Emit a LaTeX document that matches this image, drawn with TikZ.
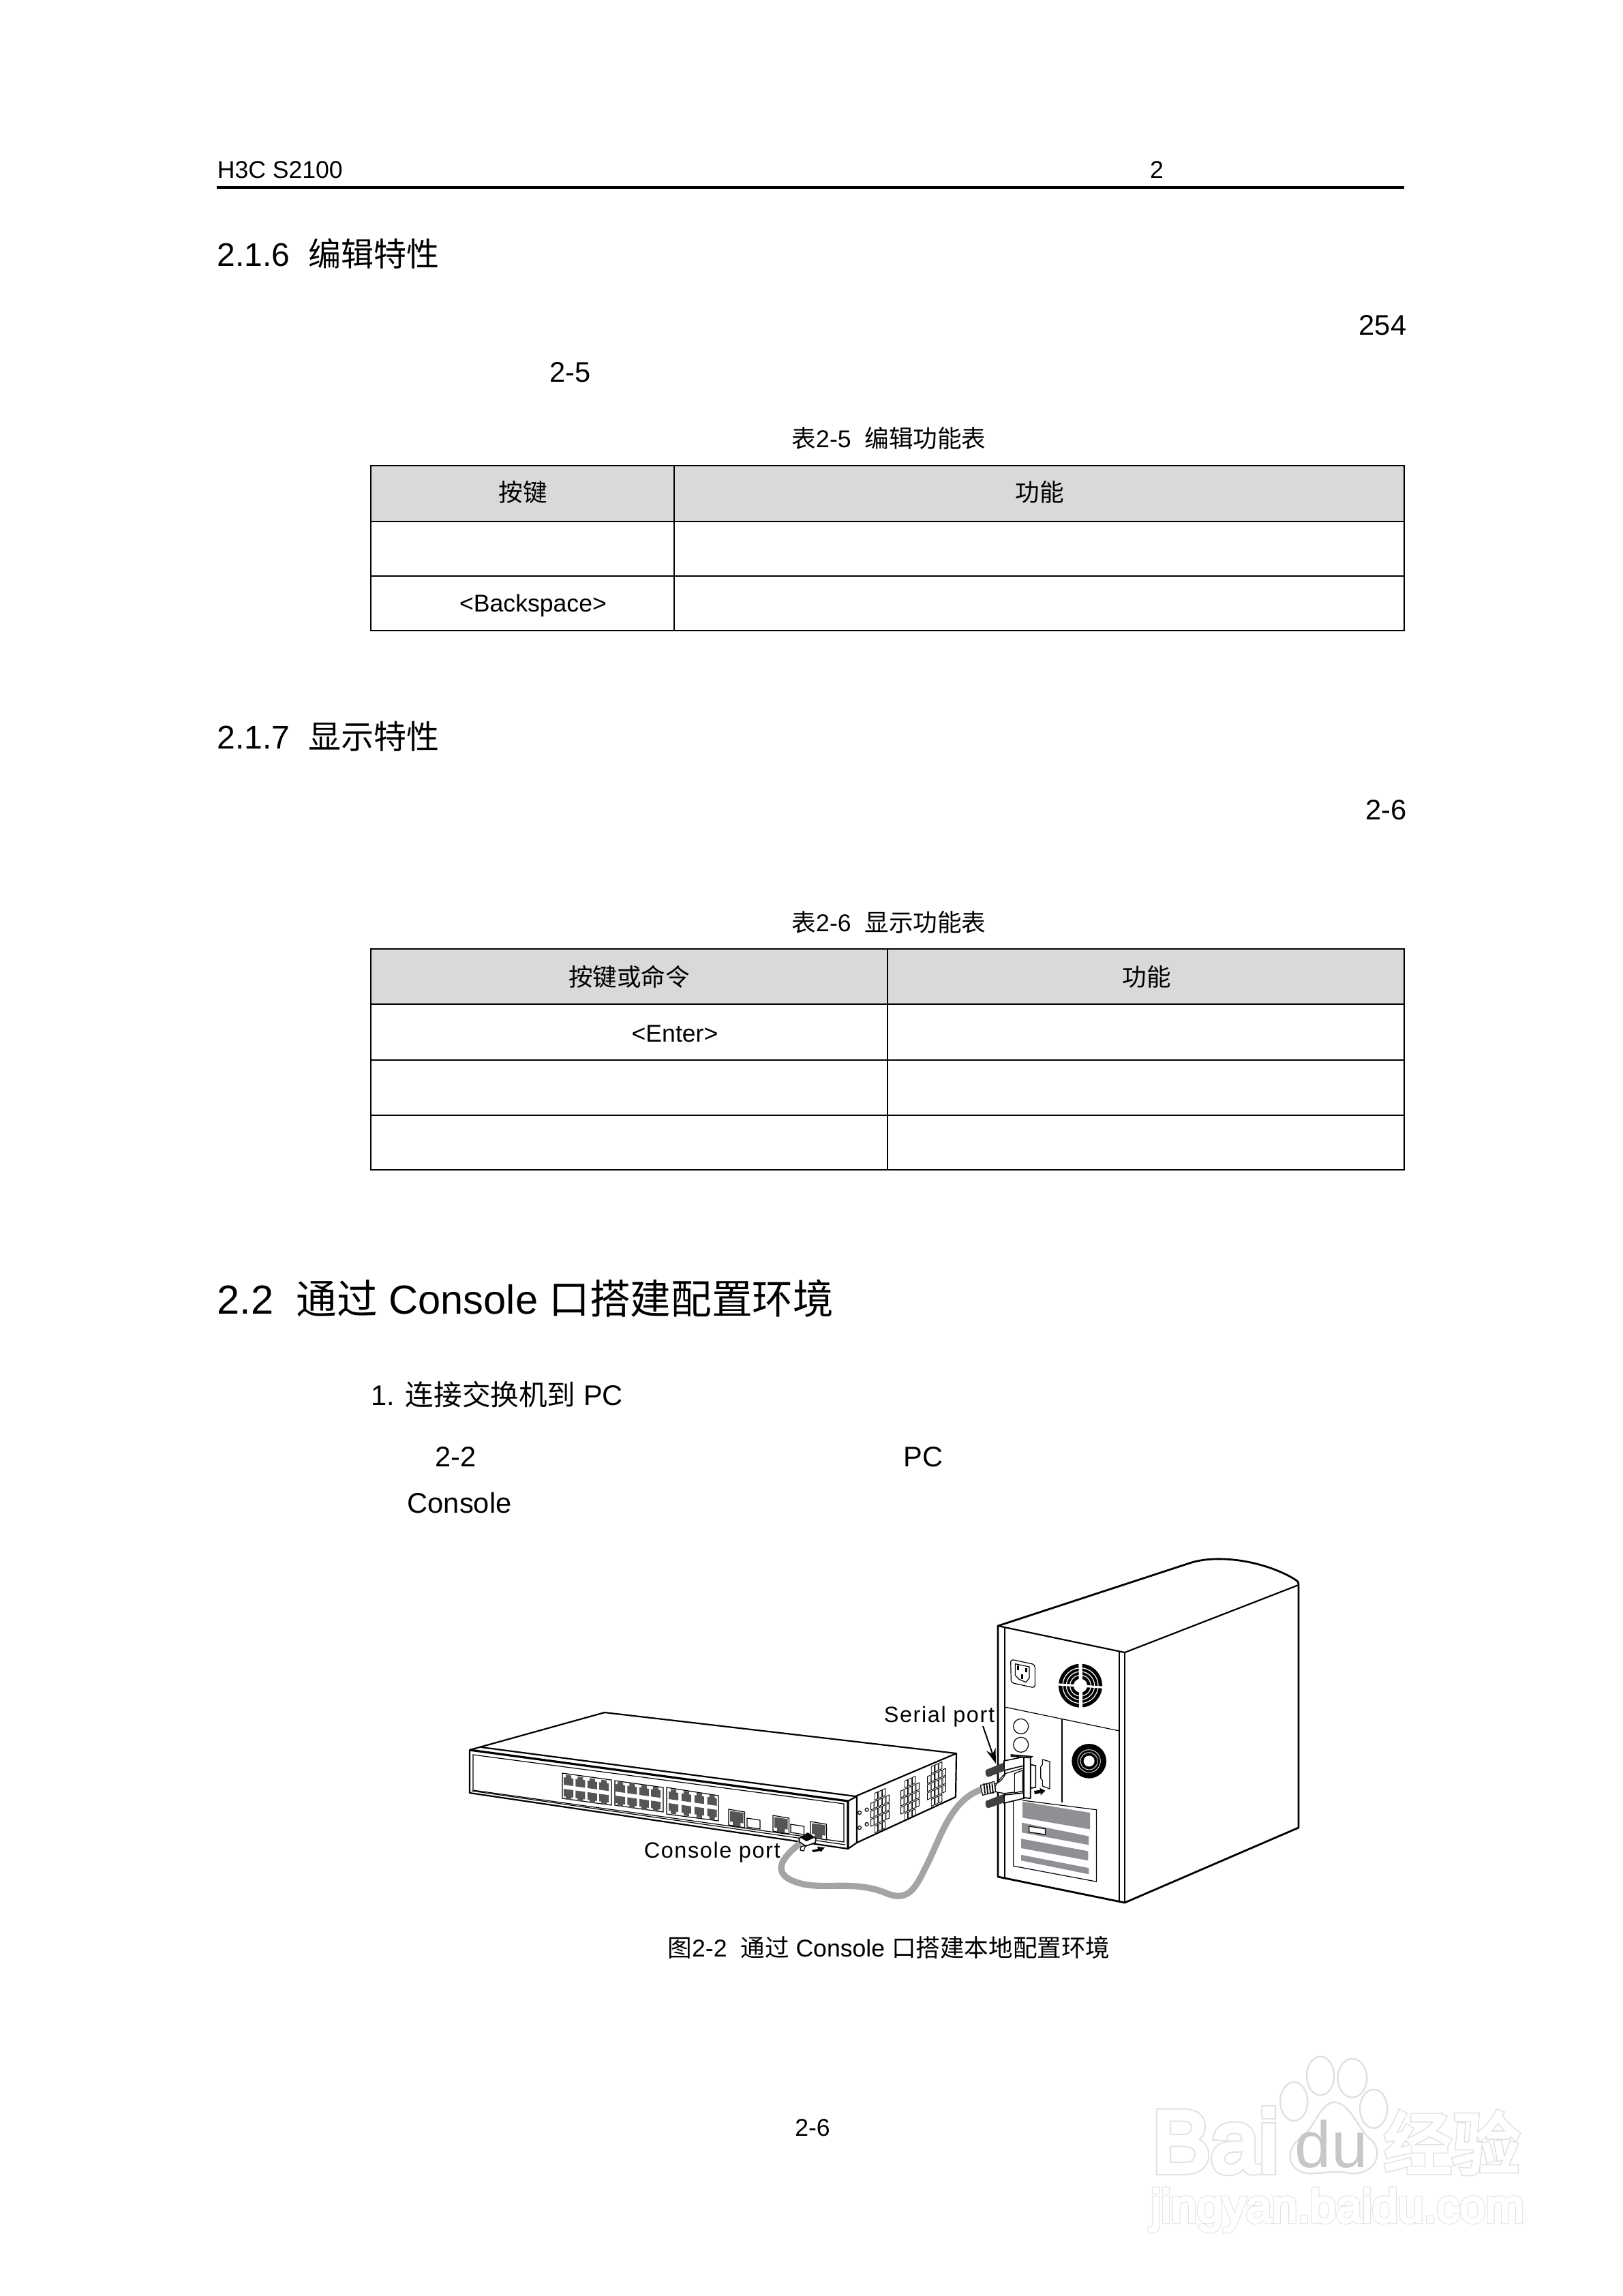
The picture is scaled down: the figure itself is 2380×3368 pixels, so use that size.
\documentclass[tikz,border=0pt]{standalone}
\usepackage{fontspec}
\setmainfont{Liberation Sans}
\newfontfamily\cjk{Noto Sans CJK SC}
\newfontfamily\portfont[LetterSpace=5]{Liberation Sans}
\newfontfamily\wmfat[FakeBold=8]{Liberation Sans}
\newfontfamily\wmthin[FakeBold=5]{Liberation Sans}
\newfontfamily\wmcjkfat[FakeBold=7]{Noto Sans CJK SC}
\newfontfamily\wmcjkthin[FakeBold=4]{Noto Sans CJK SC}
\usetikzlibrary{arrows.meta}
\definecolor{headgray}{HTML}{D9D9D9}
\definecolor{cardgray}{HTML}{8E9096}
\definecolor{portgray}{HTML}{555555}
\definecolor{cablegray}{HTML}{A4A4A4}
\definecolor{wmgray}{HTML}{E0E0E0}
\newcommand{\fsmall}{\fontsize{8.9}{11}\selectfont}
\newcommand{\fbody}{\fontsize{10.4}{12}\selectfont}
\newcommand{\fsec}{\fontsize{12}{14}\selectfont}
\newcommand{\fchap}{\fontsize{14.9}{18}\selectfont}
\newcommand{\fport}{\fontsize{8.1}{10}\selectfont\portfont}
\newcommand{\wmtext}[7]{%
\node[anchor=center,text=wmgray,font=\fontsize{#4}{#4}\selectfont#5] (#1) at (#2,#3) {#7};
\node[anchor=center,text=white,font=\fontsize{#4}{#4}\selectfont#6] (#1t) at (#2,#3) {#7};}
\tikzset{
cellline/.style={draw=black,line width=0.5pt},
dev/.style={draw=black,line width=0.55pt,line join=round},
devthin/.style={draw=black,line width=0.3pt},
rjtop/.pic={\fill[portgray,yslant=-.14] (0,4) -- (3,4) -- (3,0) -- (11,0) -- (11,4) -- (14,4) -- (14,15) -- (0,15) -- cycle;},
rjbot/.pic={\fill[portgray,yslant=-.14] (0,0) -- (14,0) -- (14,11) -- (11,11) -- (11,15) -- (3,15) -- (3,11) -- (0,11) -- cycle;},
}
\begin{document}
\begin{tikzpicture}[x=0.25pt,y=-0.25pt,anchor=west,inner sep=0pt]
\useasboundingbox (0,0) rectangle (2380,3368);
% page head
\node[font=\fsmall] (head) at (318,249) {H3C S2100}; \node[font=\fsmall,anchor=center] (headno) at (1697,249) {2};
\draw[line width=1pt] (318,275) -- (2060,275);
% 2.1.6
\node[font=\fsec] (sec216) at (318,372) {2.1.6\ \ {\cjk 编辑特性}};
\node[font=\fbody,anchor=east] (len254) at (2064,477) {254};
\node[font=\fbody] (ref25) at (806,546) {2-5};
\node[font=\fsmall,anchor=center] (cap25) at (1304,643) {{\cjk 表}2-5\ \ {\cjk 编辑功能表}};
\fill[headgray] (544,683) rectangle (2060,765);
\draw[cellline] (544,683) rectangle (2060,925);
\draw[cellline] (544,765) -- (2060,765); \draw[cellline] (544,845) -- (2060,845); \draw[cellline] (989,683) -- (989,925);
\node[font=\fsmall,anchor=center] (key25) at (767,722) {\cjk 按键}; \node[font=\fsmall,anchor=center] (fun25) at (1525,722) {\cjk 功能};
\node[font=\fsmall,anchor=center] (bksp) at (782,888) {<Backspace>};
% 2.1.7
\node[font=\fsec] (sec217) at (318,1080) {2.1.7\ \ {\cjk 显示特性}};
\node[font=\fbody,anchor=east] (ref26) at (2064,1188) {2-6};
\node[font=\fsmall,anchor=center] (cap26) at (1304,1353) {{\cjk 表}2-6\ \ {\cjk 显示功能表}};
\fill[headgray] (544,1392) rectangle (2060,1473);
\draw[cellline] (544,1392) rectangle (2060,1716);
\draw[cellline] (544,1473) -- (2060,1473); \draw[cellline] (544,1555) -- (2060,1555); \draw[cellline] (544,1636) -- (2060,1636); \draw[cellline] (1302,1392) -- (1302,1716);
\node[font=\fsmall,anchor=center] (key26) at (923,1433) {\cjk 按键或命令}; \node[font=\fsmall,anchor=center] (fun26) at (1682,1433) {\cjk 功能};
\node[font=\fsmall,anchor=center] (enter) at (990,1516) {<Enter>};
% 2.2
\node[font=\fchap] (sec22) at (318,1905) {2.2\ \ {\cjk 通过} Console {\cjk 口搭建配置环境}};
\node[font=\fbody] (item1) at (544,2046) {1. {\cjk 连接交换机到} PC};
\node[font=\fbody] (ref22) at (638,2137) {2-2}; \node[font=\fbody] (pc) at (1325,2137) {PC};
\node[font=\fbody] (console) at (597,2205) {Console};
% tower
\draw[dev,line width=0.7pt] (1464,2385) -- (1745,2293) .. controls (1790,2278) and (1860,2292) .. (1900,2317) .. controls (1905,2320) and (1905,2322) .. (1905,2326) -- (1905,2681) -- (1650,2791) -- (1464,2753) -- cycle;
\draw[dev] (1464,2385) -- (1650,2424) -- (1905,2325); \draw[dev,line width=0.7pt] (1650,2424) -- (1650,2791);
\draw[devthin] (1474,2388) -- (1474,2756); \draw[devthin] (1642,2422) -- (1642,2789);
\draw[devthin] (1474,2504) -- (1642,2539); \draw[devthin] (1558,2522) -- (1558,2644);
% socket and fan, in the crop's own numbers
\begin{scope}[shift={(1430,2420)},scale=1/3]
\draw[devthin,rounded corners=1pt] (158,42) -- (265,65) -- (265,168) -- (160,145) -- cycle;
\draw[devthin] (178,62) -- (240,75) -- (240,125) -- (225,143) -- (195,130) -- (178,112) -- cycle;
\fill (185,70) rectangle (195,90); \fill (222,80) rectangle (232,100); \fill (203,108) rectangle (213,128);
\fill (465,158) circle (96);
\draw[white,line width=0.3pt] (465,158) circle (78); \draw[white,line width=0.3pt] (465,158) circle (62); \draw[white,line width=0.3pt] (465,158) circle (46);
\fill[white] (465,158) circle (30);
\draw[white,line width=1.3pt] (465,50) -- (467,265); \draw[white,line width=0.8pt] (355,152) -- (575,166);
\draw[devthin] (203,337) circle (33); \draw[devthin] (203,418) circle (33);
\fill (503,490) circle (76);
\draw[white,line width=0.2pt] (503,490) circle (50); \draw[white,line width=0.2pt] (503,490) circle (38);
\fill[white] (503,490) circle (24);
\draw[devthin,fill=white] (298,483) -- (330,492) -- (330,612) -- (298,600) -- (298,575) -- (290,565) -- (290,515) -- (298,505) -- cycle;
\end{scope}
% cards
\begin{scope}[shift={(1250,2250)},xscale=0.4464,yscale=0.3636]
\draw[devthin] (530,1075) -- (530,1340) -- (803,1403) -- (803,1113) -- (560,1075);
\fill[cardgray] (560,1080) -- (782,1125) -- (782,1192) -- (560,1145) -- cycle;
\fill[cardgray] (558,1165) -- (778,1220) -- (778,1255) -- (558,1205) -- cycle;
\draw[devthin,fill=white] (582,1180) -- (635,1190) -- (635,1213) -- (582,1203) -- cycle;
\fill[cardgray] (556,1230) -- (776,1280) -- (776,1318) -- (556,1268) -- cycle;
\fill[cardgray] (556,1295) -- (778,1348) -- (778,1373) -- (556,1318) -- cycle;
\end{scope}
% switch
\draw[dev,fill=white] (689,2567) -- (887,2512) -- (1403,2572) -- (1402,2636) -- (1257,2703) -- (1244,2712) -- (689,2630) -- cycle;
\draw[dev] (706,2563) -- (1255,2635) -- (1403,2572);
\draw[dev,line width=0.8pt] (689,2567) -- (1244,2642) -- (1244,2712);
\draw[dev] (1244,2642) -- (1257,2635) -- (1257,2703);
\draw[devthin] (694,2574) -- (1238,2646) -- (1238,2702) -- (694,2626) -- cycle;
\draw[devthin] (692,2627) -- (1240,2706);
% port groups
\draw[devthin] (825,2601) -- (897,2611) -- (897,2648) -- (825,2638) -- cycle;
\draw[devthin] (902,2612) -- (973,2622) -- (973,2658) -- (902,2648) -- cycle;
\draw[devthin] (978,2622) -- (1054,2634) -- (1054,2671) -- (978,2661) -- cycle;
\foreach \gx/\gy/\gs in {827/2603/17.4,903/2613/17.4,981/2624/18.9} {
\foreach \i in {0,...,3} {
\pic at (\gx+\gs*\i,\gy+.14*\gs*\i) {rjtop};
\pic at (\gx+\gs*\i,\gy+21+.14*\gs*\i) {rjbot};
}}
\foreach \fx/\fy in {1069/2654,1134/2663,1189/2672} {
\draw[devthin,fill=white] (\fx,\fy) -- (\fx+23.5,\fy+4) -- (\fx+23.5,\fy+27) -- (\fx,\fy+23) -- cycle;
\pic[scale=1.4] at (\fx+2,\fy+2.5) {rjbot};
}
\draw[devthin] (1096,2667) -- (1115,2670) -- (1115,2683) -- (1096,2680) -- cycle;
\draw[devthin] (1160,2676) -- (1179.5,2679) -- (1179.5,2691) -- (1160,2688) -- cycle;
% side vents
\foreach \gx/\gy in {1291/2656,1335/2638,1374/2617} {
\begin{scope}[shift={(\gx,\gy)},yslant=.45]
\foreach \rowno/\cols in {-2/{-1,0,1},-1/{-2,-1,0,1,2},0/{-2,-1,0,1,2},1/{-2,-1,0,1,2},2/{-1,0,1}} {
\foreach \colno in \cols {
\draw[devthin,line width=0.22pt] (5.6*\colno-2.2,12*\rowno-5) rectangle (5.6*\colno+2.2,12*\rowno+5);
}}
\end{scope}
}
\draw[devthin] (1261,2659) circle (2.5); \draw[devthin] (1271.6,2654.6) circle (2.5);
\draw[devthin] (1261,2681) circle (2.5); \draw[devthin] (1271.6,2676) circle (2.5);
% cable
\coordinate (plugend) at (1174,2704); \coordinate (serialend) at (1440,2625);
\draw[cablegray,line width=2.3pt] (plugend) .. controls (1150,2722) and (1125,2750) .. (1175,2763) .. controls (1210,2772) and (1255,2758) .. (1300,2777) .. controls (1335,2792) and (1345,2765) .. (1361,2733) .. controls (1380,2695) and (1395,2640) .. (serialend);
% plug
\draw[devthin,fill=white,line width=0.4pt] (1172,2697) -- (1185,2689) -- (1197,2697) -- (1196,2703) -- (1182,2708) -- (1173,2702) -- cycle;
\fill (1175,2696) -- (1185,2690) -- (1194,2696) -- (1183,2701) -- cycle;
\draw[devthin,fill=white] (1175,2709) -- (1182,2707) -- (1179,2715) -- (1174,2714) -- cycle;
\fill (1191,2714) -- (1200,2712) -- (1199,2709) -- (1210,2710) -- (1204,2717) -- (1203,2715) -- (1193,2717) -- cycle;
% serial connector
\begin{scope}[shift={(1430,2420)},scale=1/3]
\draw[devthin,fill=white,line width=0.4pt] (245,505) -- (268,510) -- (268,605) -- (245,610) -- cycle;
\draw[devthin,fill=white] (90,600) .. controls (105,575) and (120,555) .. (135,545) -- (216,520) -- (216,622) -- (130,632) -- (90,625) -- cycle;
\draw[devthin] (85,592) .. controls (105,588) and (125,570) .. (135,545);
\draw[devthin,fill=white] (175,545) -- (210,530) -- (210,622) -- (175,630) -- cycle;
\draw[devthin,fill=white,line width=0.4pt] (129,489) -- (216,471) -- (216,510) -- (129,531) -- cycle;
\draw[devthin,fill=white,line width=0.4pt] (129,639) -- (216,630) -- (216,654) -- (129,675) -- cycle;
\draw[dev,fill=white,line width=0.45pt] (216,471) -- (245,473) -- (245,654) -- (216,651) -- cycle;
\draw[devthin,fill=white,line width=0.4pt] (160,462) -- (252,470) -- (245,476) -- (216,473) -- (160,468) -- cycle;
\draw[devthin,fill=white] (25,597) -- (85,580) -- (92,625) -- (35,640) -- cycle;
\foreach \sx in {40,52,64,76} {\draw[line width=0.45pt] (\sx,588) -- (\sx+5,632);}
\fill[black!75] (50,528) -- (125,498) -- (130,533) -- (60,560) .. controls (46,560) and (44,535) .. (50,528) -- cycle;
\fill[black!75] (50,665) -- (125,636) -- (130,672) -- (60,697) .. controls (46,697) and (44,672) .. (50,665) -- cycle;
\fill (261,621) -- (288,617) -- (286,608) -- (310,620) -- (290,640) -- (290,630) -- (264,636) -- cycle;
\end{scope}
% labels
\node[font=\fport] (serial) at (1296,2518) {Serial port};
\node[font=\fport] (consoleport) at (944,2717) {Console port};
\coordinate (serialtip) at (1461,2587); \coordinate (serialtail) at (1442,2532);
\draw[-{Stealth[length=5.5pt,width=3.5pt]},line width=0.5pt] (serialtail) -- (serialtip);
\node[font=\fsmall,anchor=center] (cap22) at (1304,2857) {{\cjk 图}2-2\ \ {\cjk 通过} Console {\cjk 口搭建本地配置环境}};
\node[font=\fsmall,anchor=center] (pageno) at (1192,3121) {2-6};
% watermark
\wmtext{wmbai}{1783}{3140}{32}{\wmfat}{\wmthin}{Bai}
\wmtext{wmjing}{2130}{3143}{25}{\wmcjkfat}{\wmcjkthin}{经验}
\wmtext{wmurl}{1962}{3242}{17}{\wmfat}{\wmthin}{jingyan.baidu.com}
\begin{scope}[shift={(1600,2950)},xscale=0.4464,yscale=0.3333]
\draw[wmgray,line width=0.6pt] (668,398) ellipse (45 and 85);
\draw[wmgray,line width=0.6pt] (755,285) ellipse (45 and 85);
\draw[wmgray,line width=0.6pt] (860,295) ellipse (48 and 85);
\draw[wmgray,line width=0.6pt] (930,430) ellipse (45 and 85);
\draw[wmgray,line width=0.6pt] (800,400) .. controls (860,410) and (880,530) .. (925,570) .. controls (960,620) and (940,715) .. (860,715) .. controls (800,700) and (760,715) .. (720,715) .. controls (640,710) and (640,600) .. (690,560) .. controls (730,530) and (750,410) .. (800,400) -- cycle;
\end{scope}
\node[anchor=center,text=black!22,font=\fontsize{24}{24}\selectfont] (wmdu) at (1953,3145) {du};
\end{tikzpicture}
\end{document}
